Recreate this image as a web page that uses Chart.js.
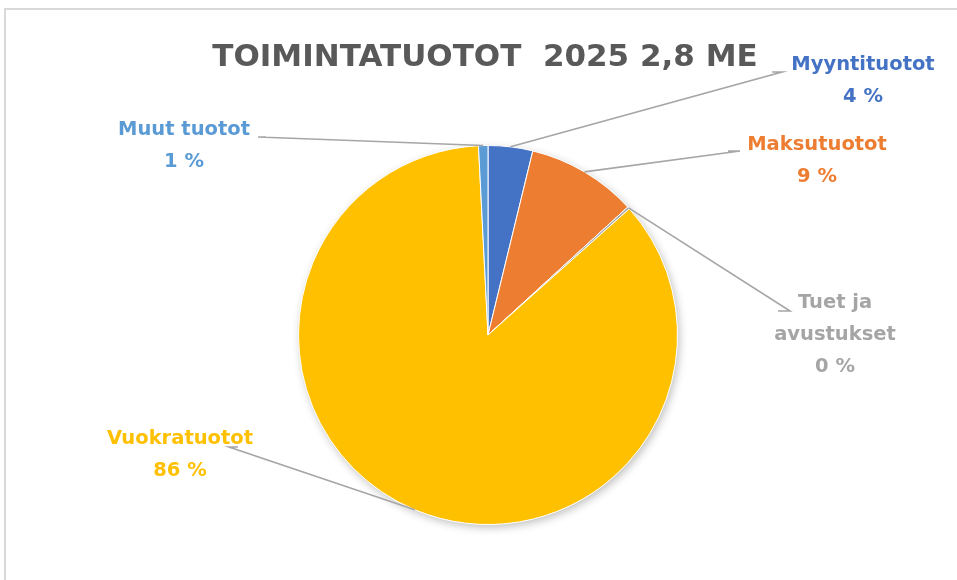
<!DOCTYPE html>
<html lang="fi">
<head>
    <meta charset="UTF-8">
    <title>Toimintatuotot 2025</title>
    <script src="https://cdn.jsdelivr.net/npm/chart.js@4.4.1/dist/chart.umd.min.js"></script>
    <style>
        body { margin: 0; background: #fff; }
        #frame { position: absolute; left: 4px; top: 8px; width: 960px; height: 580px; border-top: 2px solid #d9d9d9; border-left: 2px solid #d9d9d9; }
        #wrap { position: absolute; left: 0; top: 0; width: 957px; height: 580px; }
    </style>
</head>
<body>
    <div id="frame"></div>
    <div id="wrap"><canvas id="pie"></canvas></div>

    <script>
        // chart data
        const categories = ['Myyntituotot', 'Maksutuotot', 'Tuet ja avustukset', 'Vuokratuotot', 'Muut tuotot'];
        const shares = [3.8, 9.4, 0.2, 85.8, 0.8];
        const shareLabels = ['4 %', '9 %', '0 %', '86 %', '1 %'];
        const titleText = 'TOIMINTATUOTOT  2025 2,8 ME';

        const colors = ['#4472C4', '#ED7D31', '#A5A5A5', '#FFC000', '#5B9BD5'];

        // where each label sits and where its leader line bends
        const labelLayout = [
            { x: 863, y: 65, lines: ['Myyntituotot'], elbow: [[782, 72], [772, 72]] },
            { x: 817, y: 145, lines: ['Maksutuotot'], elbow: [[740, 151], [728, 151]] },
            { x: 835, y: 303, lines: ['Tuet ja', 'avustukset'], elbow: [[790, 311], [778, 311]] },
            { x: 180, y: 439, lines: ['Vuokratuotot'], elbow: [[229, 447], [238, 447]] },
            { x: 184, y: 130, lines: ['Muut tuotot'], elbow: [[258, 137], [266, 137]] }
        ];

        const FONT = '"DejaVu Sans", sans-serif';

        const pieDecor = {
            id: 'pieDecor',
            beforeDatasetsDraw(chart) {
                const arc = chart.getDatasetMeta(0).data[0];
                const ctx = chart.ctx;
                ctx.save();
                ctx.shadowColor = 'rgba(0,0,0,0.25)';
                ctx.shadowBlur = 8;
                ctx.shadowOffsetX = 2;
                ctx.shadowOffsetY = 3;
                ctx.fillStyle = '#fff';
                ctx.beginPath();
                ctx.arc(arc.x, arc.y, arc.outerRadius, 0, Math.PI * 2);
                ctx.fill();
                ctx.restore();
            },
            afterDraw(chart) {
                const ctx = chart.ctx;
                const meta = chart.getDatasetMeta(0);
                ctx.save();

                // title
                ctx.fillStyle = '#595959';
                ctx.font = 'bold 31px ' + FONT;
                ctx.textAlign = 'center';
                ctx.textBaseline = 'middle';
                ctx.fillText(titleText, 485, 58);

                meta.data.forEach((arc, i) => {
                    const lay = labelLayout[i];
                    const mid = (arc.startAngle + arc.endAngle) / 2;
                    const sx = arc.x + Math.cos(mid) * arc.outerRadius;
                    const sy = arc.y + Math.sin(mid) * arc.outerRadius;

                    // leader line
                    ctx.strokeStyle = '#A6A6A6';
                    ctx.lineWidth = 1.6;
                    ctx.beginPath();
                    ctx.moveTo(sx, sy);
                    lay.elbow.forEach(p => ctx.lineTo(p[0], p[1]));
                    ctx.stroke();

                    // label text
                    ctx.fillStyle = colors[i];
                    ctx.font = 'bold 19.5px ' + FONT;
                    const rows = lay.lines.concat([shareLabels[i]]);
                    rows.forEach((t, k) => ctx.fillText(t, lay.x, lay.y + k * 32));
                });
                ctx.restore();
            }
        };

        new Chart(document.getElementById('pie'), {
            type: 'pie',
            data: {
                labels: categories,
                datasets: [{
                    data: shares,
                    backgroundColor: colors,
                    borderColor: '#ffffff',
                    borderWidth: 1
                }]
            },
            options: {
                responsive: true,
                maintainAspectRatio: false,
                animation: false,
                layout: { padding: { left: 298, right: 279, top: 145, bottom: 55 } },
                plugins: {
                    legend: { display: false },
                    tooltip: { enabled: false },
                    title: { display: false }
                }
            },
            plugins: [pieDecor]
        });
    </script>
</body>
</html>
